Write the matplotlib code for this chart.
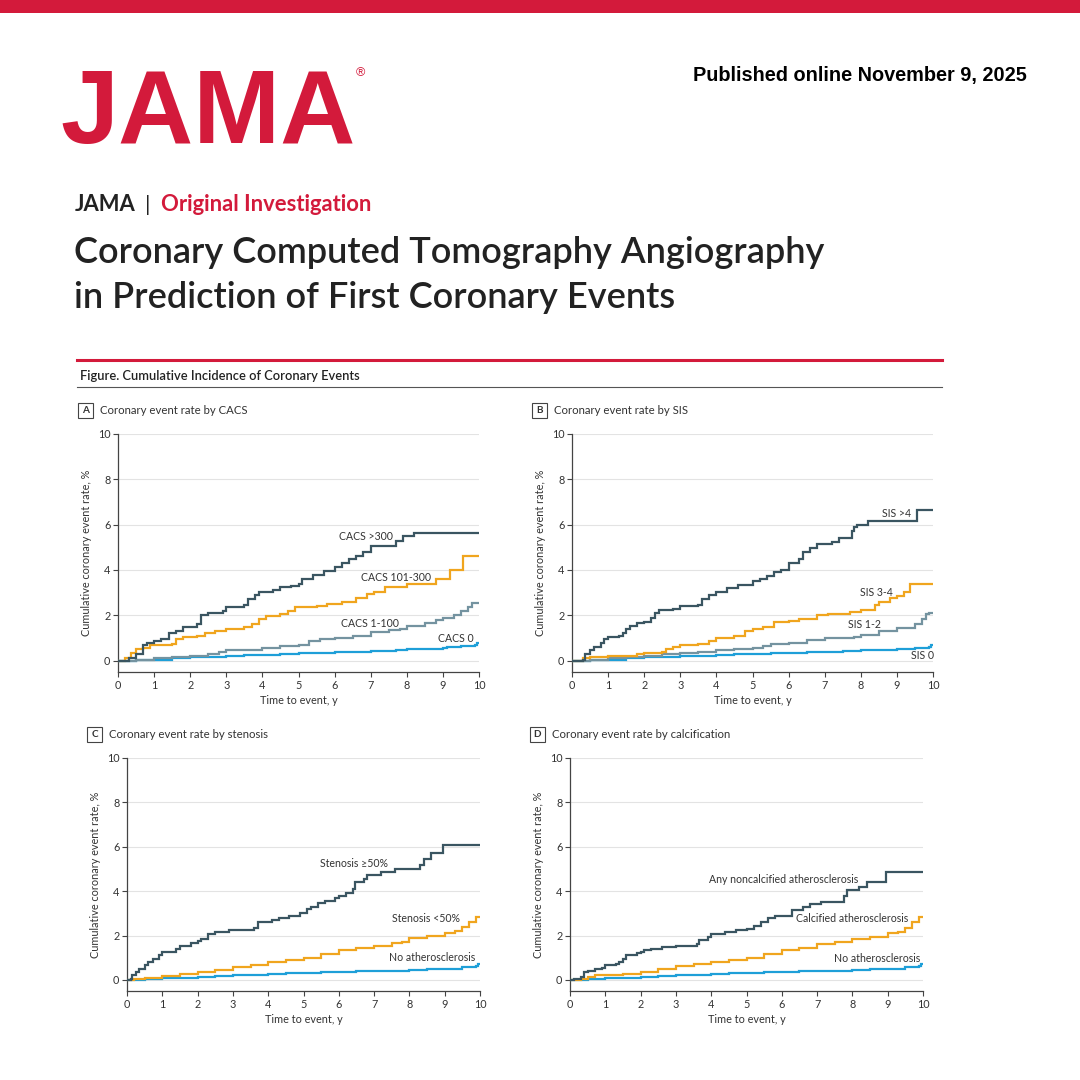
import matplotlib
matplotlib.use("Agg")
import matplotlib.pyplot as plt
from matplotlib.patches import Rectangle
from matplotlib.lines import Line2D

plt.rcParams["font.family"] = ["Lato", "DejaVu Sans"]

# Panel A: coronary event rate by CACS
cacs300_t = [0, 0.3, 0.5, 0.7, 0.8, 1.0, 1.2, 1.4, 1.6, 1.8, 2.2, 2.3, 2.5, 2.9,
             3.0, 3.5, 3.6, 3.8, 3.9, 4.3, 4.5, 4.8, 5.0, 5.1, 5.4, 5.7, 6.0,
             6.2, 6.4, 6.6, 6.8, 7.0, 7.7, 7.9, 8.2, 10]
cacs300_v = [0, 0.1, 0.3, 0.7, 0.8, 0.85, 0.95, 1.2, 1.3, 1.5, 1.6, 2.0, 2.1, 2.2,
             2.35, 2.45, 2.7, 2.9, 3.05, 3.1, 3.25, 3.3, 3.4, 3.6, 3.8, 3.95,
             4.15, 4.3, 4.5, 4.6, 4.8, 5.05, 5.3, 5.5, 5.65, 5.65]
cacs101_t = [0, 0.2, 0.35, 0.5, 0.7, 0.9, 1.5, 1.6, 1.8, 2.2, 2.4, 2.7, 3.0, 3.5,
             3.7, 3.9, 4.1, 4.5, 4.7, 4.9, 5.5, 5.8, 6.2, 6.6, 6.9, 7.1, 7.4,
             8.0, 8.8, 9.2, 9.55, 10]
cacs101_v = [0, 0.1, 0.35, 0.5, 0.55, 0.7, 0.75, 0.95, 1.05, 1.1, 1.2, 1.3, 1.4,
             1.5, 1.6, 1.85, 1.95, 2.05, 2.2, 2.35, 2.4, 2.5, 2.6, 2.75, 2.95,
             3.05, 3.25, 3.38, 3.62, 4.0, 4.6, 4.6]
cacs1_t = [0, 0.5, 1.0, 1.5, 2.0, 2.5, 2.8, 3.0, 3.5, 4.0, 4.5, 5.0, 5.3, 5.6,
           6.0, 6.5, 7.0, 7.5, 7.8, 8.0, 8.5, 8.8, 9.0, 9.3, 9.5, 9.7, 9.8, 10]
cacs1_v = [0, 0.05, 0.1, 0.15, 0.2, 0.3, 0.4, 0.45, 0.48, 0.55, 0.65, 0.7, 0.85,
           0.95, 1.0, 1.1, 1.25, 1.35, 1.4, 1.55, 1.65, 1.8, 1.9, 2.0, 2.2, 2.35,
           2.55, 2.55]
cacs0_t = [0, 0.5, 1.0, 1.5, 2.0, 2.5, 3.0, 3.5, 4.0, 4.5, 5.0, 5.5, 6.0, 6.5,
           7.0, 7.7, 8.0, 8.5, 9.0, 9.1, 9.5, 9.9, 9.95, 10]
cacs0_v = [0, 0.02, 0.05, 0.1, 0.15, 0.18, 0.2, 0.24, 0.27, 0.3, 0.32, 0.35,
           0.38, 0.4, 0.42, 0.45, 0.5, 0.52, 0.55, 0.62, 0.65, 0.7, 0.78, 0.78]

# Panel B: coronary event rate by SIS
sis4_t = [0, 0.3, 0.35, 0.5, 0.6, 0.8, 0.9, 1.0, 1.3, 1.4, 1.5, 1.6, 1.8, 2.0,
          2.2, 2.3, 2.4, 2.8, 3.0, 3.5, 3.6, 3.8, 4.0, 4.3, 4.6, 5.0, 5.2, 5.4,
          5.6, 5.8, 6.0, 6.3, 6.4, 6.6, 6.8, 7.2, 7.4, 7.75, 7.8, 7.9, 8.2,
          9.55, 10]
sis4_v = [0, 0.05, 0.3, 0.45, 0.6, 0.8, 0.95, 1.05, 1.1, 1.2, 1.4, 1.55, 1.65,
          1.7, 1.9, 2.1, 2.25, 2.3, 2.4, 2.45, 2.7, 2.9, 3.05, 3.2, 3.35, 3.5,
          3.6, 3.75, 3.9, 4.0, 4.3, 4.5, 4.8, 4.95, 5.15, 5.25, 5.4, 5.7, 5.9,
          6.0, 6.15, 6.65, 6.65]
sis34_t = [0, 0.3, 0.5, 1.0, 1.5, 1.8, 2.0, 2.5, 2.6, 2.8, 3.0, 3.5, 3.8, 4.0,
           4.5, 4.8, 5.0, 5.3, 5.6, 6.0, 6.3, 6.8, 7.1, 7.7, 8.0, 8.4, 8.5, 8.8,
           9.0, 9.2, 9.35, 10]
sis34_v = [0, 0.1, 0.15, 0.2, 0.22, 0.3, 0.35, 0.4, 0.5, 0.6, 0.7, 0.75, 0.85,
           1.0, 1.1, 1.3, 1.4, 1.5, 1.7, 1.75, 1.85, 2.0, 2.05, 2.15, 2.25, 2.45,
           2.6, 2.75, 2.85, 3.05, 3.4, 3.4]
sis12_t = [0, 0.5, 1.0, 1.5, 2.0, 2.5, 3.0, 3.5, 4.0, 4.5, 5.0, 5.3, 5.5, 6.0,
           6.5, 7.0, 7.8, 8.0, 8.5, 9.0, 9.5, 9.7, 9.8, 9.9, 10]
sis12_v = [0, 0.05, 0.1, 0.15, 0.2, 0.3, 0.35, 0.4, 0.45, 0.5, 0.55, 0.65, 0.75,
           0.8, 0.9, 1.0, 1.05, 1.15, 1.3, 1.45, 1.6, 1.85, 2.05, 2.1, 2.1]
sis0_t = [0, 0.5, 1.0, 1.5, 2.0, 2.5, 3.0, 3.5, 4.0, 4.5, 5.0, 5.5, 6.0, 6.5,
          7.0, 7.5, 8.0, 8.5, 9.0, 9.5, 9.9, 9.95, 10]
sis0_v = [0, 0.02, 0.05, 0.1, 0.15, 0.18, 0.2, 0.22, 0.25, 0.28, 0.3, 0.32,
          0.35, 0.37, 0.4, 0.42, 0.45, 0.47, 0.5, 0.55, 0.6, 0.7, 0.7]

# Panel C: coronary event rate by stenosis
sten50_t = [0, 0.1, 0.15, 0.25, 0.35, 0.5, 0.6, 0.75, 0.9, 1.0, 1.4, 1.5, 1.8,
            2.0, 2.1, 2.3, 2.5, 2.9, 3.6, 3.7, 4.1, 4.3, 4.6, 4.9, 5.1, 5.2,
            5.4, 5.6, 5.9, 6.0, 6.2, 6.4, 6.45, 6.7, 6.8, 7.2, 7.6, 8.3, 8.4,
            8.6, 8.95, 10]
sten50_v = [0, 0.05, 0.2, 0.35, 0.5, 0.65, 0.8, 0.95, 1.1, 1.25, 1.4, 1.55,
            1.65, 1.75, 1.85, 2.05, 2.15, 2.25, 2.35, 2.6, 2.7, 2.8, 2.9, 3.0,
            3.2, 3.3, 3.45, 3.55, 3.7, 3.8, 3.9, 4.1, 4.4, 4.55, 4.75, 4.85,
            5.0, 5.2, 5.45, 5.7, 6.1, 6.1]
stenlt50_t = [0, 0.2, 0.5, 1.0, 1.5, 2.0, 2.5, 3.0, 3.5, 4.0, 4.5, 5.0, 5.5,
              6.0, 6.5, 7.0, 7.5, 7.8, 8.0, 8.5, 9.0, 9.3, 9.5, 9.7, 9.9, 10]
stenlt50_v = [0, 0.02, 0.1, 0.18, 0.25, 0.35, 0.45, 0.6, 0.65, 0.8, 0.9, 1.0,
              1.15, 1.35, 1.45, 1.55, 1.65, 1.7, 1.9, 2.0, 2.1, 2.2, 2.4, 2.6,
              2.85, 2.85]
noath_t = [0, 0.5, 1.0, 1.5, 2.0, 2.5, 3.0, 3.5, 4.0, 4.5, 5.0, 5.5, 6.0, 6.5,
           7.0, 7.5, 8.0, 8.5, 9.0, 9.5, 9.9, 9.95, 10]
noath_v = [0, 0.02, 0.07, 0.1, 0.15, 0.18, 0.2, 0.23, 0.27, 0.3, 0.32, 0.34,
           0.36, 0.38, 0.4, 0.42, 0.45, 0.48, 0.5, 0.58, 0.62, 0.7, 0.7]

# Panel D: coronary event rate by calcification
noncalc_t = [0, 0.1, 0.3, 0.4, 0.5, 0.7, 0.9, 1.0, 1.3, 1.4, 1.5, 1.6, 1.9,
             2.0, 2.1, 2.3, 2.6, 3.0, 3.6, 3.65, 3.9, 4.0, 4.4, 4.7, 5.0, 5.2,
             5.4, 5.6, 5.8, 6.3, 6.6, 6.8, 7.1, 7.75, 7.85, 8.2, 8.4, 8.95, 10]
noncalc_v = [0, 0.05, 0.15, 0.35, 0.42, 0.47, 0.55, 0.65, 0.7, 0.8, 0.95, 1.1,
             1.2, 1.25, 1.35, 1.4, 1.5, 1.55, 1.6, 1.8, 1.95, 2.05, 2.15, 2.25,
             2.3, 2.45, 2.6, 2.8, 2.9, 3.15, 3.3, 3.4, 3.5, 3.8, 4.05, 4.2, 4.4,
             4.85, 4.85]
calc_t = [0, 0.3, 0.5, 0.7, 1.0, 1.5, 2.0, 2.5, 3.0, 3.5, 4.0, 4.5, 5.0, 5.5,
          6.0, 6.5, 7.0, 7.5, 8.0, 8.5, 9.0, 9.3, 9.5, 9.7, 9.9, 10]
calc_v = [0, 0.05, 0.12, 0.2, 0.22, 0.25, 0.35, 0.5, 0.62, 0.7, 0.8, 0.9, 1.0,
          1.15, 1.35, 1.45, 1.6, 1.7, 1.85, 1.95, 2.1, 2.15, 2.35, 2.6, 2.85,
          2.85]

DARK = "#3a5561"
ORANGE = "#f0a51e"
GREY = "#7493a0"
BLUE = "#1e9fd8"
RED = "#d31a3b"
TEXT = "#333333"

W = 1080.0


def fx(x):
    return x / W


def fy(y):
    return 1 - y / W


def make_panel(fig, left, right, top, bottom, letter, title, series, labels):
    """Draws one cumulative incidence panel, positions given in pixels."""
    ax = fig.add_axes([fx(left), fy(bottom), (right - left) / W,
                       (bottom - top) / W])
    for t, v, c in series:
        ax.step(t, v, where="post", color=c, lw=1.6, zorder=3,
                solid_joinstyle="miter")
    for x, y, s in labels:
        ax.text(x, y, s, ha="center", va="center", fontsize=7.6, color=TEXT)

    ax.set_xlim(0, 10)
    ax.set_ylim(-0.5, 10)
    ax.set_xticks(range(0, 11))
    ax.set_yticks(range(0, 11, 2))
    ax.grid(axis="y", color="#e3e3e3", lw=0.8, zorder=0)
    ax.set_axisbelow(True)
    for side in ("top", "right"):
        ax.spines[side].set_visible(False)
    for side in ("left", "bottom"):
        ax.spines[side].set_color("#444444")
        ax.spines[side].set_linewidth(0.9)
    ax.tick_params(direction="out", length=3.5, width=0.8, color="#444444",
                   labelsize=7.8, labelcolor=TEXT, pad=2)
    ax.set_xlabel("Time to event, y", fontsize=7.8, color=TEXT, labelpad=3)
    ax.set_ylabel("Cumulative coronary event rate, %", fontsize=7.8,
                  color=TEXT, labelpad=4)

    # Panel letter box and heading
    bx = left - 40
    by = top - 31
    fig.patches.append(Rectangle((fx(bx), fy(by + 15)), 15 / W, 15 / W,
                                 transform=fig.transFigure, fill=False,
                                 ec="#444444", lw=0.8))
    fig.text(fx(bx + 7.5), fy(by + 7.5), letter, ha="center", va="center",
             fontsize=7.2, fontweight="bold", color=TEXT)
    fig.text(fx(bx + 22), fy(by + 7.5), title, ha="left", va="center",
             fontsize=8.2, color=TEXT)
    return ax


fig = plt.figure(figsize=(10.8, 10.8), dpi=100)

# Header
fig.patches.append(Rectangle((0, fy(13)), 1, 13 / W, transform=fig.transFigure,
                             color=RED, lw=0))
fig.text(fx(60), fy(143), "JAMA", fontsize=75, color=RED, fontweight="bold",
         family="Liberation Sans", ha="left", va="baseline")
fig.text(fx(356), fy(76), "®", fontsize=9, color=RED,
         family="Liberation Sans", ha="left", va="baseline")
fig.text(fx(1027), fy(81), "Published online November 9, 2025", fontsize=14.3,
         color="black", fontweight="bold", family="Liberation Sans",
         ha="right", va="baseline")

fig.text(fx(75), fy(211), "JAMA", fontsize=15.8, fontweight="bold",
         color="#222222", ha="left", va="baseline")
fig.text(fx(145), fy(211), "|", fontsize=15.8, color="#222222",
         ha="left", va="baseline")
fig.text(fx(161), fy(211), "Original Investigation", fontsize=15.8,
         fontweight="bold", color=RED, ha="left", va="baseline")
fig.text(fx(74), fy(263), "Coronary Computed Tomography Angiography",
         fontsize=26, fontweight="semibold", color="#222222",
         ha="left", va="baseline")
fig.text(fx(74), fy(308), "in Prediction of First Coronary Events",
         fontsize=26, fontweight="semibold", color="#222222",
         ha="left", va="baseline")

fig.add_artist(Line2D([fx(77), fx(942)], [fy(360), fy(360)], color=RED, lw=2.2))
fig.text(fx(80), fy(380), "Figure. Cumulative Incidence of Coronary Events",
         fontsize=9.3, fontweight="semibold", color="#222222",
         ha="left", va="baseline")
fig.add_artist(Line2D([fx(77), fx(942)], [fy(387), fy(387)], color="#555555",
                      lw=0.8))

make_panel(fig, 118, 479, 434, 672, "A", "Coronary event rate by CACS",
           [(cacs0_t, cacs0_v, BLUE), (cacs1_t, cacs1_v, GREY),
            (cacs101_t, cacs101_v, ORANGE), (cacs300_t, cacs300_v, DARK)],
           [(6.88, 5.5, "CACS >300"), (7.69, 3.67, "CACS 101-300"),
            (6.98, 1.66, "CACS 1-100"), (9.37, 1.0, "CACS 0")])

make_panel(fig, 572, 933, 434, 672, "B", "Coronary event rate by SIS",
           [(sis0_t, sis0_v, BLUE), (sis12_t, sis12_v, GREY),
            (sis34_t, sis34_v, ORANGE), (sis4_t, sis4_v, DARK)],
           [(9.0, 6.48, "SIS >4"), (8.44, 3.02, "SIS 3-4"),
            (8.1, 1.6, "SIS 1-2"), (9.7, 0.23, "SIS 0")])

make_panel(fig, 127, 480, 758, 991, "C", "Coronary event rate by stenosis",
           [(noath_t, noath_v, BLUE), (stenlt50_t, stenlt50_v, ORANGE),
            (sten50_t, sten50_v, DARK)],
           [(6.42, 5.26, "Stenosis ≥50%"), (8.48, 2.78, "Stenosis <50%"),
            (8.65, 1.0, "No atherosclerosis")])

make_panel(fig, 570, 923, 758, 991, "D", "Coronary event rate by calcification",
           [(noath_t, noath_v, BLUE), (calc_t, calc_v, ORANGE),
            (noncalc_t, noncalc_v, DARK)],
           [(6.06, 4.51, "Any noncalcified atherosclerosis"),
            (7.99, 2.78, "Calcified atherosclerosis"),
            (8.69, 0.98, "No atherosclerosis")])

fig.savefig("out.png", dpi=100, facecolor="white")
